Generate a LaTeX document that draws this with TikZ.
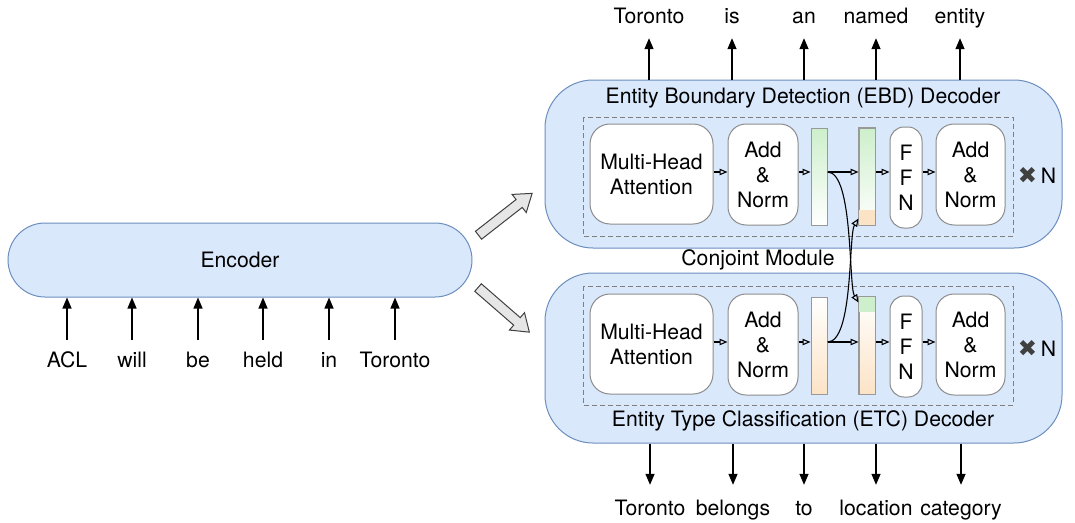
\documentclass[tikz,border=0pt]{standalone}
\usepackage{fontspec}
\setmainfont{TeX Gyre Heros}
\newfontfamily\djv{DejaVu Sans}
\usetikzlibrary{arrows.meta,shapes.arrows,calc}
\definecolor{decfill}{HTML}{DAE8FC}
\definecolor{decdraw}{HTML}{6C8EBF}
\definecolor{grn}{HTML}{CDEFCB}
\definecolor{org}{HTML}{FCE3C6}
\definecolor{boxgray}{HTML}{8C8C8C}
\definecolor{bargray}{HTML}{999999}
\definecolor{fatfill}{HTML}{E6E6E6}
\begin{document}
\begin{tikzpicture}[x=1pt,y=-1pt,font=\fontsize{21.2}{25}\selectfont,
  dec/.style={draw=decdraw,fill=decfill,line width=1pt,rounded corners=48pt,minimum width=517pt,inner sep=0},
  enc/.style={draw=decdraw,fill=decfill,line width=1pt,rounded corners=37pt,minimum width=464pt,minimum height=74pt,inner sep=0},
  blk/.style={draw=boxgray,fill=white,line width=1pt,align=center,inner sep=0},
  barbox/.style={draw=bargray,line width=1pt,minimum width=16pt,minimum height=97pt,inner sep=0},
  dbox/.style={draw=gray,line width=0.9pt,dash pattern=on 5pt off 3pt},
  word/.style={anchor=base,inner sep=0,text height=15pt,text depth=4pt},
  outarr/.style={line width=1.3pt,-{Triangle[length=11pt,width=9pt]}},
  sarr/.style={line width=1.1pt,-{Triangle[open,length=8pt,width=6.5pt]}},
  fat/.style={single arrow,draw=black!75,fill=fatfill,line width=1pt,minimum height=68pt,single arrow head extend=6.5pt,inner sep=4.5pt,single arrow tip angle=70}]
\useasboundingbox (0,0) rectangle (1075,522);

% encoder
\node[enc] (enc) at (240,260) {};
\node (enclab) at (240,260) {Encoder};
\foreach \x/\w [count=\i] in {67/ACL,132/will,198/be,263/held,329/in,395/Toronto}{
  \node[word] (in\i) at (\x,367) {\w};
  \draw[outarr] ([yshift=12pt]in\i.north) -- (in\i |- enc.south);
}

% fat arrows
\node[fat,rotate=38] (fatA) at (502.5,216.5) {};
\node[fat,rotate=-41] (fatB) at (501,307.5) {};

% decoders
\node[dec,minimum height=168pt] (dec1) at (803.5,164) {};
\node[dec,minimum height=170pt] (dec2) at (803.5,358) {};
\node (t1) at (803,98) {Entity Boundary Detection (EBD) Decoder};
\node (t2) at (803,421) {Entity Type Classification (ETC) Decoder};
\node (conj) at (758,260) {Conjoint Module};

\draw[dbox] (583,117) rectangle (1013,236);
\draw[dbox] (583,286) rectangle (1013,405);

\coordinate (r1) at (0,172);
\coordinate (r2) at (0,342);

% top row
\node[blk,rounded corners=20pt,minimum width=123pt,minimum height=100pt] (tm) at (651.5,174) {Multi-Head\\Attention};
\node[blk,rounded corners=18pt,minimum width=70pt,minimum height=101pt] (ta) at (763,174.5) {Add\\\&\\Norm};
\node[barbox,top color=grn,bottom color=white] (tb1) at (819,176.5) {};
\node[barbox,top color=grn,bottom color=white] (tb2) at (867,176.5) {};
\fill[org] ([xshift=0.5pt]tb2.south west) rectangle ([xshift=-0.5pt,yshift=16pt]tb2.south east);
\draw[bargray,line width=1pt] (tb2.south west) rectangle (tb2.north east);
\node[blk,rounded corners=14pt,minimum width=32pt,minimum height=101pt] (tf) at (906,177.5) {F\\F\\N};
\node[blk,rounded corners=18pt,minimum width=69pt,minimum height=101pt] (tn) at (970.5,174.5) {Add\\\&\\Norm};
\node (tx) at (1037,175) {{\djv\fontsize{23}{24}\selectfont\color{black!75}\char"2716}\,N};

% bottom row
\node[blk,rounded corners=20pt,minimum width=123pt,minimum height=100pt] (bm) at (651.5,344) {Multi-Head\\Attention};
\node[blk,rounded corners=18pt,minimum width=70pt,minimum height=101pt] (ba) at (763,344.5) {Add\\\&\\Norm};
\node[barbox,top color=white,bottom color=org] (bb1) at (819,345.5) {};
\node[barbox,top color=white,bottom color=org] (bb2) at (867,345.5) {};
\fill[grn] ([xshift=0.5pt]bb2.north west) rectangle ([xshift=-0.5pt,yshift=-15pt]bb2.north east);
\draw[bargray,line width=1pt] (bb2.south west) rectangle (bb2.north east);
\node[blk,rounded corners=14pt,minimum width=32pt,minimum height=101pt] (bf) at (906,346.5) {F\\F\\N};
\node[blk,rounded corners=18pt,minimum width=69pt,minimum height=101pt] (bn) at (970.5,344.5) {Add\\\&\\Norm};
\node (bx) at (1037,348) {{\djv\fontsize{23}{24}\selectfont\color{black!75}\char"2716}\,N};

% small arrows
\draw[sarr] (tm.east |- r1) -- (ta.west |- r1);
\draw[sarr] (ta.east |- r1) -- (tb1.west |- r1);
\draw[sarr] (tb1.east |- r1) -- (tb2.west |- r1);
\draw[sarr] (tb2.east |- r1) -- (tf.west |- r1);
\draw[sarr] (tf.east |- r1) -- (tn.west |- r1);
\draw[sarr] (bm.east |- r2) -- (ba.west |- r2);
\draw[sarr] (ba.east |- r2) -- (bb1.west |- r2);
\draw[sarr] (bb1.east |- r2) -- (bb2.west |- r2);
\draw[sarr] (bb2.east |- r2) -- (bf.west |- r2);
\draw[sarr] (bf.east |- r2) -- (bn.west |- r2);
% cross curves
\draw[sarr] (tb1.east |- r1) .. controls +(26,0) and +(-10,-16) .. ([yshift=-6pt]bb2.north west);
\draw[sarr] (bb1.east |- r2) .. controls +(26,0) and +(-10,16) .. ([yshift=7pt]tb2.south west);

% outputs
\foreach \x/\w [count=\i] in {649/Toronto,732/is,804/an,876/named,960/entity}{
  \node[word] (o\i) at (\x,23) {\w};
  \draw[outarr] (o\i |- dec1.north) -- ([yshift=-11pt]o\i.south);
}
\foreach \x/\w [count=\i] in {650/Toronto,733/belongs,804/to,876/location,961/category}{
  \node[word] (p\i) at (\x,515) {\w};
  \draw[outarr] (p\i |- dec2.south) -- ([yshift=15pt]p\i.north);
}
\end{tikzpicture}
\end{document}
